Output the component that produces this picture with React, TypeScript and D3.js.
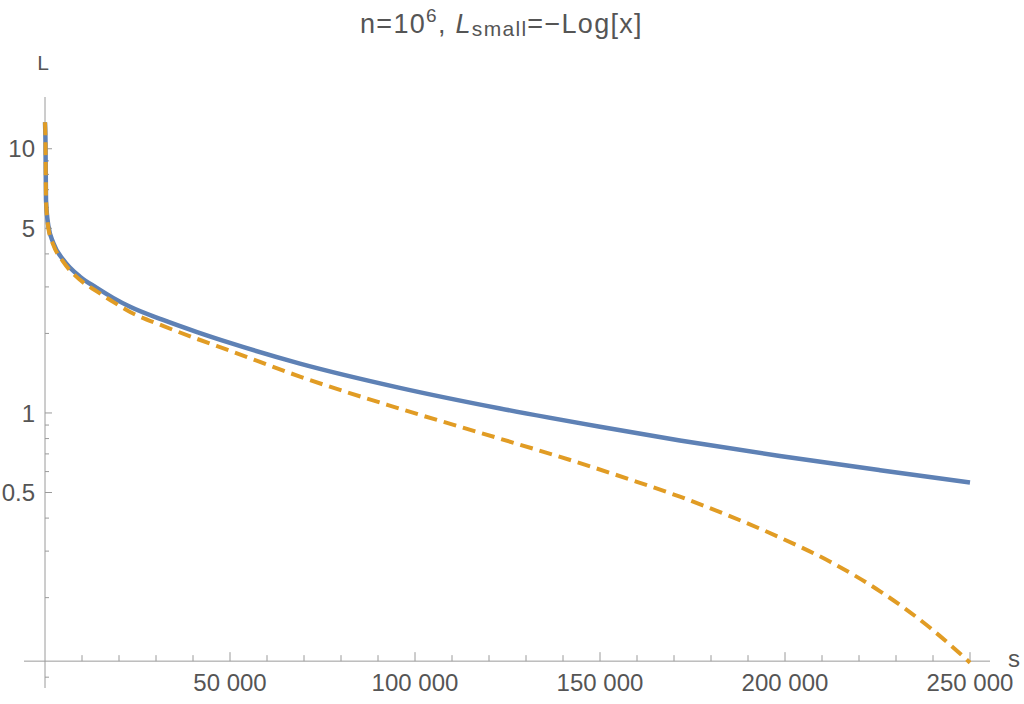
import * as d3 from "d3";

// solid blue curve: L against s
const sSolid = [
    0, 135, 270, 900, 2250, 4950, 9450, 14000, 18400, 23000, 31900, 41100, 50000,
    68900, 95900, 123000, 150000, 171600, 198600, 225700, 250000,
];
const solidL = [
    12.6, 10.54, 6.41, 5.12, 4.4, 3.8, 3.28, 2.975, 2.727, 2.523, 2.249, 2.023, 1.841,
    1.538, 1.245, 1.04, 0.887, 0.787, 0.687, 0.607, 0.546,
];

// dashed orange curve: L_small = -Log[x]
const sDashed = [
    0, 135, 270, 900, 2250, 4950, 9450, 14000, 18400, 23000, 31900, 41100, 50000,
    68900, 95900, 123000, 144600, 158100, 171600, 185100, 198600, 212200, 225700,
    239200, 250000,
];
const dashedL = [
    12.6, 10.54, 6.41, 5.02, 4.33, 3.73, 3.19, 2.886, 2.634, 2.413, 2.136, 1.907, 1.72,
    1.373, 1.038, 0.799, 0.646, 0.56, 0.482, 0.407, 0.338, 0.2735, 0.2113, 0.1538, 0.1135,
];

const xMajorTicks = [50000, 100000, 150000, 200000, 250000];
const xMinorTicks = d3.range(10000, 250000, 10000).filter((d) => d % 50000 !== 0);
const yMajorTicks = [0.5, 1, 5, 10];
const yMinorTicks = [0.1, 0.2, 0.3, 0.4, 0.6, 0.7, 0.8, 0.9, 2, 3, 4, 6, 7, 8, 9];

const width = 1024;
const height = 704;

const textColor = "#555555";
const axisColor = "#9a9a9a";
const font = "'Liberation Sans', Arial, sans-serif";

const fmt = d3
    .formatLocale({ decimal: ".", thousands: "\u00a0", grouping: [3], currency: ["", ""] })
    .format(",d");

export default function App() {
    const x = d3.scaleLinear().domain([0, 250000]).range([45, 970]);
    const y = d3.scaleLog().domain([0.091, 15.7]).range([688, 97]);

    const axisY = y(0.115); // where the s axis crosses
    const axisX = x(0);

    const line = d3
        .line<[number, number]>()
        .x((d) => x(d[0]))
        .y((d) => y(d[1]))
        .curve(d3.curveMonotoneX);

    const solidPts = sSolid.map((s, i) => [s, solidL[i]] as [number, number]);
    const dashedPts = sDashed.map((s, i) => [s, dashedL[i]] as [number, number]);

    return (
        <svg
            width={width}
            height={height}
            style={{ position: "absolute", left: 0, top: 0, background: "white" }}
            fontFamily={font}
        >
            {/* title */}
            <text x={360} y={33} fontSize={27} fill={textColor} letterSpacing={1.3}>
                n=10
                <tspan dy={-11} fontSize={19}>6</tspan>
                <tspan dy={11}>, </tspan>
                <tspan fontStyle="italic">L</tspan>
                <tspan dy={3} fontSize={21}>small</tspan>
                <tspan dy={-3}>=−Log[x]</tspan>
            </text>

            {/* axes */}
            <line x1={24} x2={990} y1={axisY} y2={axisY} stroke={axisColor} strokeWidth={1} />
            <line
                x1={axisX}
                x2={axisX}
                y1={y.range()[1]}
                y2={y.range()[0]}
                stroke={axisColor}
                strokeWidth={1}
            />

            {xMajorTicks.map((t) => (
                <g key={"xM" + t}>
                    <line x1={x(t)} x2={x(t)} y1={axisY} y2={axisY - 9} stroke={axisColor} />
                    <text x={x(t)} y={axisY + 30} textAnchor="middle" fontSize={24} fill={textColor}>
                        {fmt(t)}
                    </text>
                </g>
            ))}
            {xMinorTicks.map((t) => (
                <line key={"xm" + t} x1={x(t)} x2={x(t)} y1={axisY} y2={axisY - 6} stroke={axisColor} />
            ))}

            {yMajorTicks.map((t) => (
                <g key={"yM" + t}>
                    <line x1={axisX} x2={axisX + 7} y1={y(t)} y2={y(t)} stroke={axisColor} />
                    <text
                        x={axisX - 10}
                        y={y(t)}
                        dy="0.36em"
                        textAnchor="end"
                        fontSize={24}
                        fill={textColor}
                    >
                        {t}
                    </text>
                </g>
            ))}
            {yMinorTicks.map((t) => (
                <line key={"ym" + t} x1={axisX} x2={axisX + 4} y1={y(t)} y2={y(t)} stroke={axisColor} />
            ))}

            {/* axis labels */}
            <text x={43} y={70} textAnchor="middle" fontSize={21} fill={textColor}>L</text>
            <text x={1014} y={667} textAnchor="middle" fontSize={24} fill={textColor}>s</text>

            {/* curves */}
            <path d={line(solidPts) ?? ""} fill="none" stroke="#5E81B5" strokeWidth={4.5} />
            <path
                d={line(dashedPts) ?? ""}
                fill="none"
                stroke="#E19C24"
                strokeWidth={4}
                strokeDasharray="13,7"
            />
        </svg>
    );
}
